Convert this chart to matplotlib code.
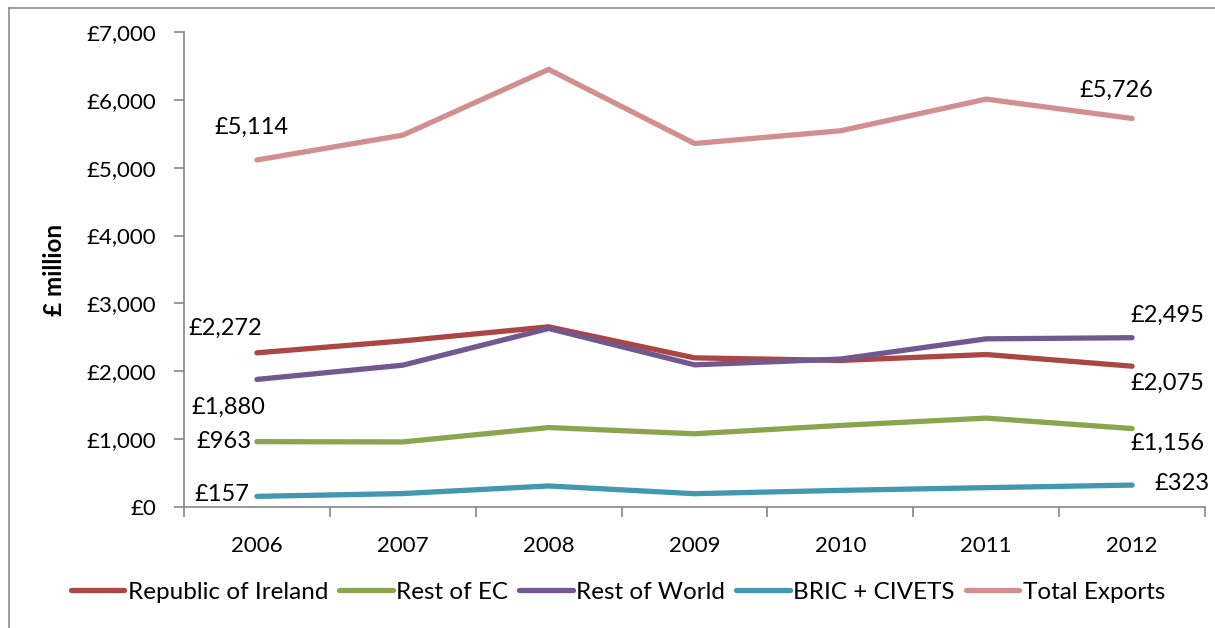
import matplotlib
matplotlib.use("Agg")
import matplotlib.pyplot as plt
from matplotlib.lines import Line2D
from matplotlib.ticker import FuncFormatter

plt.rcParams['font.family'] = ['Lato', 'DejaVu Sans']

years = ['2006', '2007', '2008', '2009', '2010', '2011', '2012']
ireland = [2272, 2448, 2655, 2198, 2160, 2247, 2075]
rest_ec = [963, 959, 1171, 1079, 1202, 1310, 1156]
rest_world = [1880, 2090, 2631, 2095, 2180, 2478, 2495]
bric_civets = [157, 198, 310, 196, 245, 285, 323]
total = [5114, 5480, 6449, 5357, 5544, 6011, 5726]

names = ['Republic of Ireland', 'Rest of EC', 'Rest of World', 'BRIC + CIVETS', 'Total Exports']
colours = ['#AA4643', '#89A54E', '#71588F', '#4198AF', '#D18F8F']
series = [ireland, rest_ec, rest_world, bric_civets, total]

W, H = 1215, 628
fig = plt.figure(figsize=(W / 100, H / 100), dpi=100)
ax = fig.add_axes([184 / W, 1 - 507 / H, (1205 - 184) / W, (507 - 32) / H])

x = list(range(len(years)))
for vals, name, col in zip(series, names, colours):
    ax.plot(x, vals, color=col, lw=3.8, label=name, solid_capstyle='round')

# value labels at first and last year: (series, year index, dx px, dy px, ha)
label_spots = [
    (4, 0, -5, 33, 'center'), (0, 0, -32, 24, 'center'), (2, 0, -29, -28, 'center'),
    (1, 0, -5, 0, 'right'), (3, 0, -8, 2, 'right'),
    (4, 6, -16, 28, 'center'), (2, 6, 35, 22, 'center'), (0, 6, 35, -17, 'center'),
    (1, 6, 35, -15, 'center'), (3, 6, 22, 2, 'left'),
]
for si, xi, dx, dy, ha in label_spots:
    v = series[si][xi]
    ax.annotate(f'£{v:,.0f}', (xi, v), xytext=(dx, dy), textcoords='offset pixels',
                ha=ha, va='center', fontsize=17, color='black')

ax.set_xlim(-0.5, len(years) - 0.5)
ax.set_ylim(0, 7000)
ax.set_yticks(range(0, 7001, 1000))
ax.yaxis.set_major_formatter(FuncFormatter(lambda v, p: f'£{v:,.0f}'))

ax.set_xticks([i - 0.5 for i in range(len(years) + 1)])
ax.set_xticklabels([])
ax.set_xticks(x, minor=True)
ax.set_xticklabels(years, minor=True)
ax.tick_params(axis='x', which='minor', length=0, pad=21, labelsize=16)
ax.tick_params(axis='x', which='major', length=7, color='#868686', width=1.2)
ax.tick_params(axis='y', length=7, color='#868686', width=1.2, pad=13, labelsize=16)

for s in ['top', 'right']:
    ax.spines[s].set_visible(False)
for s in ['left', 'bottom']:
    ax.spines[s].set_color('#868686')
    ax.spines[s].set_linewidth(1.2)

fig.text(55 / W, 1 - 270 / H, '£ million', rotation=90, ha='center', va='center',
         fontsize=17.5, fontweight='bold')

leg = fig.legend(loc='center', bbox_to_anchor=(618 / W, 1 - 592 / H), ncol=5, frameon=False,
                 fontsize=17.5, handlelength=2.2, handletextpad=0.15, columnspacing=0.45)
for h in leg.get_lines():
    h.set_solid_capstyle('round')

# outer chart frame
fig.add_artist(Line2D([8.5 / W, 8.5 / W], [0, 1 - 7.5 / H], color='#8C8C8C', lw=1.2,
                      transform=fig.transFigure))
fig.add_artist(Line2D([8.5 / W, 1], [1 - 7.5 / H, 1 - 7.5 / H], color='#8C8C8C', lw=1.2,
                      transform=fig.transFigure))

fig.savefig('out.png', dpi=100)
